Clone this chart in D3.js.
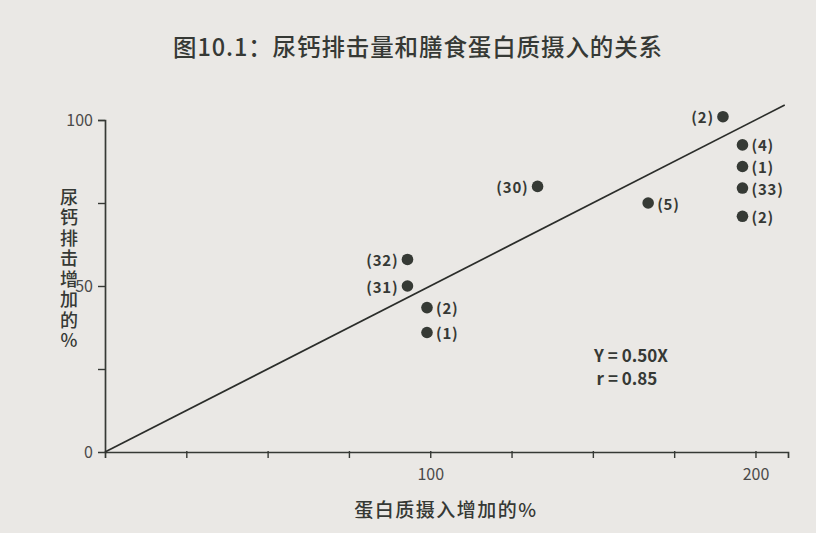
<!DOCTYPE html>
<html><head><meta charset="utf-8">
<script src="https://cdn.jsdelivr.net/npm/d3@7"></script>
<style>
html,body{margin:0;padding:0;background:#eae8e5;}
svg{display:block;}
text{font-family:"Noto Sans CJK SC","Noto Sans",sans-serif;}
</style></head>
<body>
<svg id="c" width="816" height="533"></svg>
<script>
const title = "图10.1：尿钙排击量和膳食蛋白质摄入的关系";
const xTitle = "蛋白质摄入增加的%";
const yTitle = "尿钙排击增加的%";
const proteinIncrease = [93, 93, 99, 99, 133, 190, 196, 196, 196, 196, 167];
const calciumIncrease = [58, 50, 43.5, 36, 80, 101, 92.5, 86, 79.5, 71, 75];
const studyLabels = ["(32)", "(31)", "(2)", "(1)", "(30)", "(2)", "(4)", "(1)", "(33)", "(2)", "(5)"];
const labelSide = ["left", "left", "right", "right", "left", "left", "right", "right", "right", "right", "right"];
const xTicks = [0, 25, 50, 75, 100, 125, 150, 175, 200];
const xTickLabels = [100, 200];
const yTicks = [0, 25, 50, 75, 100];
const yTickLabels = [0, 50, 100];
const slope = 0.50;
const rValue = 0.85;

const svg = d3.select("#c");
const ink = "#363935";
const latin = "'Open Sans','Noto Sans',sans-serif";
const x = d3.scaleLinear().domain([0, 210]).range([105, 788]);
const y = d3.scaleLinear().domain([0, 100]).range([452, 120]);

// title
svg.append("text").attr("x", 418).attr("y", 56).attr("text-anchor", "middle")
  .attr("font-size", 23.5).attr("font-weight", 500).attr("letter-spacing", 0.9)
  .attr("fill", ink).text(title);

// axes
const xAxis = d3.axisBottom(x).tickValues(xTicks).tickSize(6)
  .tickFormat(d => xTickLabels.includes(d) ? d : "");
const gx = svg.append("g").attr("transform", `translate(0,${y(0)})`).call(xAxis);
gx.select(".domain").attr("stroke", ink).attr("stroke-width", 1.7);
gx.selectAll(".tick line").attr("stroke", ink).attr("stroke-width", 1.4)
  .attr("y1", -1).attr("y2", 6);
gx.selectAll(".tick").filter(d => d === 0).select("line").remove();
gx.selectAll(".tick text").attr("font-size", 16).attr("fill", "#4a4a4a")
  .attr("y", 17).attr("font-family", latin);

const yAxis = d3.axisLeft(y).tickValues(yTicks).tickSize(7)
  .tickFormat(d => yTickLabels.includes(d) ? d : "");
const gy = svg.append("g").attr("transform", `translate(${x(0)},0)`).call(yAxis);
gy.select(".domain").attr("stroke", ink).attr("stroke-width", 1.7);
gy.selectAll(".tick line").attr("stroke", ink).attr("stroke-width", 1.4);
gy.selectAll(".tick").filter(d => d === 0).select("line").remove();
gy.selectAll(".tick text").attr("font-size", 16).attr("fill", "#4a4a4a").attr("x", -12)
  .attr("font-family", latin);

// y title (vertical)
svg.append("text").attr("x", 69).attr("y", 188)
  .attr("writing-mode", "vertical-rl")
  .style("text-orientation", "upright")
  .attr("letter-spacing", 2.5)
  .attr("font-size", 18).attr("font-weight", 500).attr("fill", ink).text(yTitle);

// x title
svg.append("text").attr("x", 446).attr("y", 517).attr("text-anchor", "middle")
  .attr("font-size", 19).attr("font-weight", 500).attr("letter-spacing", 1.5)
  .attr("fill", ink).text(xTitle);

// regression line
const xEnd = 209;
svg.append("line").attr("x1", x(0)).attr("y1", y(0))
  .attr("x2", x(xEnd)).attr("y2", y(slope * xEnd))
  .attr("stroke", "#2b2d2a").attr("stroke-width", 1.7);

// points
const pts = proteinIncrease.map((v, i) => ({x: v, y: calciumIncrease[i], label: studyLabels[i], side: labelSide[i]}));
svg.append("g").selectAll("circle").data(pts).join("circle")
  .attr("cx", d => x(d.x)).attr("cy", d => y(d.y)).attr("r", 5.8).attr("fill", "#363a35");
svg.append("g").selectAll("text").data(pts).join("text")
  .attr("x", d => d.side === "left" ? x(d.x) - 9 : x(d.x) + 9)
  .attr("y", d => y(d.y)).attr("dominant-baseline", "central")
  .attr("text-anchor", d => d.side === "left" ? "end" : "start")
  .attr("font-size", 15).attr("font-weight", 600).attr("letter-spacing", 0.8).attr("fill", ink)
  .attr("font-family", latin)
  .text(d => d.label);

// equation
svg.append("text").attr("x", 631).attr("y", 362).attr("text-anchor", "middle")
  .attr("font-size", 17).attr("font-weight", 600).attr("fill", ink)
  .attr("font-family", latin)
  .text(`Y = ${slope.toFixed(2)}X`);
svg.append("text").attr("x", 627).attr("y", 385).attr("text-anchor", "middle")
  .attr("font-size", 17).attr("font-weight", 600).attr("fill", ink)
  .attr("font-family", latin)
  .text(`r = ${rValue.toFixed(2)}`);
</script>
</body></html>
